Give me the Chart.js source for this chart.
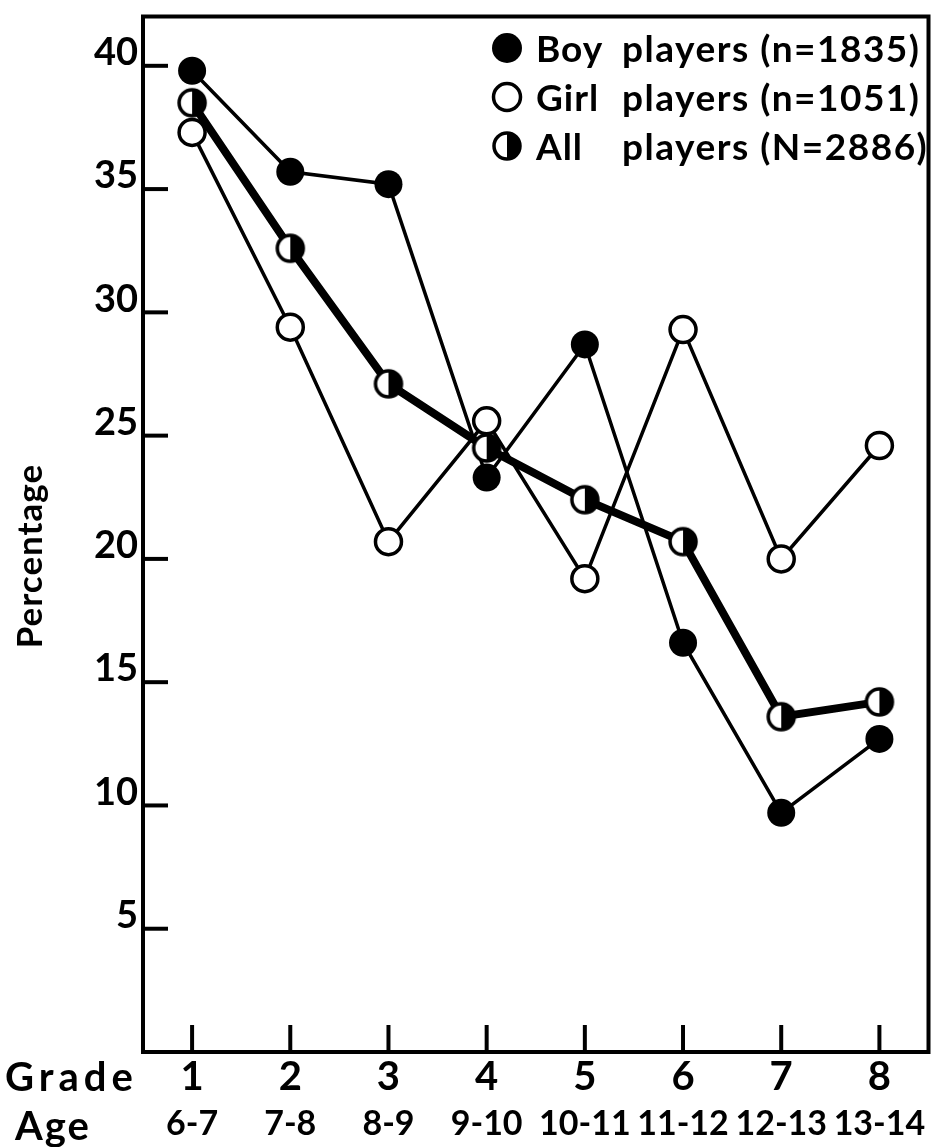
<!DOCTYPE html>
<html>
<head>
<meta charset="utf-8">
<script src="https://cdn.jsdelivr.net/npm/chart.js@4.4.1/dist/chart.umd.min.js"></script>
<style>
  html, body { margin: 0; padding: 0; background: #fff; }
  canvas { display: block; }
</style>
</head>
<body>
<canvas id="chart" width="945" height="1147"></canvas>
<script>
const grades = [1, 2, 3, 4, 5, 6, 7, 8]; // x axis, first label row
const ages = ["6-7", "7-8", "8-9", "9-10", "10-11", "11-12", "12-13", "13-14"]; // second label row
const boyPct = [39.8, 35.7, 35.2, 23.3, 28.7, 16.6, 9.7, 12.7];
const girlPct = [37.3, 29.4, 20.7, 25.6, 19.2, 29.3, 20.0, 24.6];
const allPct = [38.5, 32.6, 27.1, 24.5, 22.4, 20.7, 13.6, 14.2];
const yTicks = [5, 10, 15, 20, 25, 30, 35, 40];
const seriesNames = ["Boy", "Girl", "All"];
const seriesNotes = ["players (n=1835)", "players (n=1051)", "players (N=2886)"];

const FONT = "Lato, 'DejaVu Sans', sans-serif";

// half filled marker: left white, right black
function halfDot(r, lw) {
  const c = document.createElement("canvas");
  const s = Math.ceil(2 * r + lw + 2);
  c.width = c.height = s;
  const g = c.getContext("2d");
  const m = s / 2;
  g.fillStyle = "#fff";
  g.beginPath(); g.arc(m, m, r, 0, Math.PI * 2); g.fill();
  g.fillStyle = "#000";
  g.beginPath(); g.arc(m, m, r, -Math.PI / 2, Math.PI / 2); g.closePath(); g.fill();
  g.lineWidth = lw; g.strokeStyle = "#000";
  g.beginPath(); g.arc(m, m, r, 0, Math.PI * 2); g.stroke();
  return c;
}
const halfMarker = halfDot(13, 3.5);

const pts = arr => grades.map((g, i) => ({ x: g, y: arr[i] }));

// frame, inward ticks, legend and row headers
const decor = {
  id: "decor",
  afterDatasetsDraw(chart) {
    const { ctx, chartArea: a, scales: { x, y } } = chart;
    ctx.save();
    ctx.strokeStyle = "#000";
    ctx.lineWidth = 4;
    ctx.strokeRect(a.left, a.top, a.right - a.left, a.bottom - a.top);
    yTicks.forEach(v => {
      const py = y.getPixelForValue(v);
      ctx.beginPath(); ctx.moveTo(a.left, py); ctx.lineTo(a.left + 25, py); ctx.stroke();
    });
    grades.forEach(g => {
      const px = x.getPixelForValue(g);
      ctx.beginPath(); ctx.moveTo(px, a.bottom); ctx.lineTo(px, a.bottom - 27); ctx.stroke();
    });
    ctx.restore();
  },
  afterDraw(chart) {
    const { ctx } = chart;
    ctx.save();
    ctx.fillStyle = "#000";
    ctx.textBaseline = "middle";

    // legend
    const lx = 507, ly = 48, step = 49;
    ctx.font = "bold 37px " + FONT;
    seriesNames.forEach((name, i) => {
      const cy = ly + i * step;
      if (i === 0) {
        ctx.beginPath(); ctx.arc(lx, cy, 15, 0, Math.PI * 2); ctx.fill();
      } else if (i === 1) {
        ctx.lineWidth = 3.5; ctx.strokeStyle = "#000";
        ctx.beginPath(); ctx.arc(lx, cy, 13.5, 0, Math.PI * 2); ctx.stroke();
      } else {
        ctx.drawImage(halfMarker, lx - halfMarker.width / 2, cy - halfMarker.height / 2);
      }
      ctx.textAlign = "left";
      ctx.letterSpacing = "1px";
      ctx.fillText(name, 536, cy + 2);
      ctx.letterSpacing = "1.5px";
      ctx.fillText(seriesNotes[i], 622, cy + 2);
    });

    // row headers under the x axis
    ctx.font = "bold 40px " + FONT;
    ctx.textAlign = "left";
    ctx.letterSpacing = "5px";
    ctx.fillText("Grade", 5, 1078);
    ctx.letterSpacing = "2px";
    ctx.fillText("Age", 15, 1127);

    // y axis title
    ctx.font = "bold 35px " + FONT;
    ctx.letterSpacing = "1px";
    ctx.translate(31, 556);
    ctx.rotate(-Math.PI / 2);
    ctx.textAlign = "center";
    ctx.fillText("Percentage", 0, 0);
    ctx.restore();
  }
};

const gradeTicks = s => { s.ticks = grades.map(v => ({ value: v })); };

new Chart(document.getElementById("chart"), {
  type: "line",
  data: {
    datasets: [
      {
        label: "Girl players (n=1051)",
        data: pts(girlPct),
        borderColor: "#000",
        borderWidth: 3.5,
        pointRadius: 13,
        pointBorderWidth: 3.5,
        pointBackgroundColor: "#fff",
        pointBorderColor: "#000",
        order: 0
      },
      {
        label: "All players (N=2886)",
        data: pts(allPct),
        borderColor: "#000",
        borderWidth: 8,
        pointStyle: halfMarker,
        order: 1
      },
      {
        label: "Boy players (n=1835)",
        data: pts(boyPct),
        borderColor: "#000",
        borderWidth: 3.5,
        pointRadius: 14,
        pointBorderWidth: 0,
        pointBackgroundColor: "#000",
        order: 2
      }
    ]
  },
  options: {
    responsive: false,
    animation: false,
    events: [],
    layout: { padding: { top: 13, right: 8, left: 0, bottom: 0 } },
    plugins: { legend: { display: false }, tooltip: { enabled: false } },
    scales: {
      x: {
        type: "linear",
        position: "bottom",
        weight: 0,
        min: 0.5,
        max: 8.5,
        grid: { display: false, drawTicks: false },
        border: { display: false },
        afterBuildTicks: gradeTicks,
        ticks: {
          autoSkip: false,
          maxRotation: 0,
          padding: 1,
          color: "#000",
          font: { family: FONT, size: 40, weight: "bold", lineHeight: 1.2 },
          callback: v => String(Math.round(v))
        },
        afterFit: s => { s.height = 49; s.paddingLeft = 0; s.paddingRight = 0; }
      },
      age: {
        type: "linear",
        position: "bottom",
        weight: 1,
        min: 0.5,
        max: 8.5,
        grid: { display: false, drawTicks: false },
        border: { display: false },
        afterBuildTicks: gradeTicks,
        ticks: {
          autoSkip: false,
          maxRotation: 0,
          padding: 3,
          color: "#000",
          font: { family: FONT, size: 34, weight: "bold", lineHeight: 1.2 },
          callback: v => ages[grades.indexOf(Math.round(v))]
        },
        afterFit: s => { s.height = 46; s.paddingLeft = 0; s.paddingRight = 0; }
      },
      y: {
        min: 0,
        max: 42,
        grid: { display: false, drawTicks: false },
        border: { display: false },
        afterBuildTicks: s => { s.ticks = yTicks.map(v => ({ value: v })); },
        ticks: {
          padding: 5,
          labelOffset: -13,
          color: "#000",
          font: { family: FONT, size: 38, weight: "bold" },
          callback: v => String(v)
        },
        afterFit: s => { s.width = 143; s.paddingTop = 0; s.paddingBottom = 0; }
      }
    }
  },
  plugins: [decor]
});
</script>
</body>
</html>
